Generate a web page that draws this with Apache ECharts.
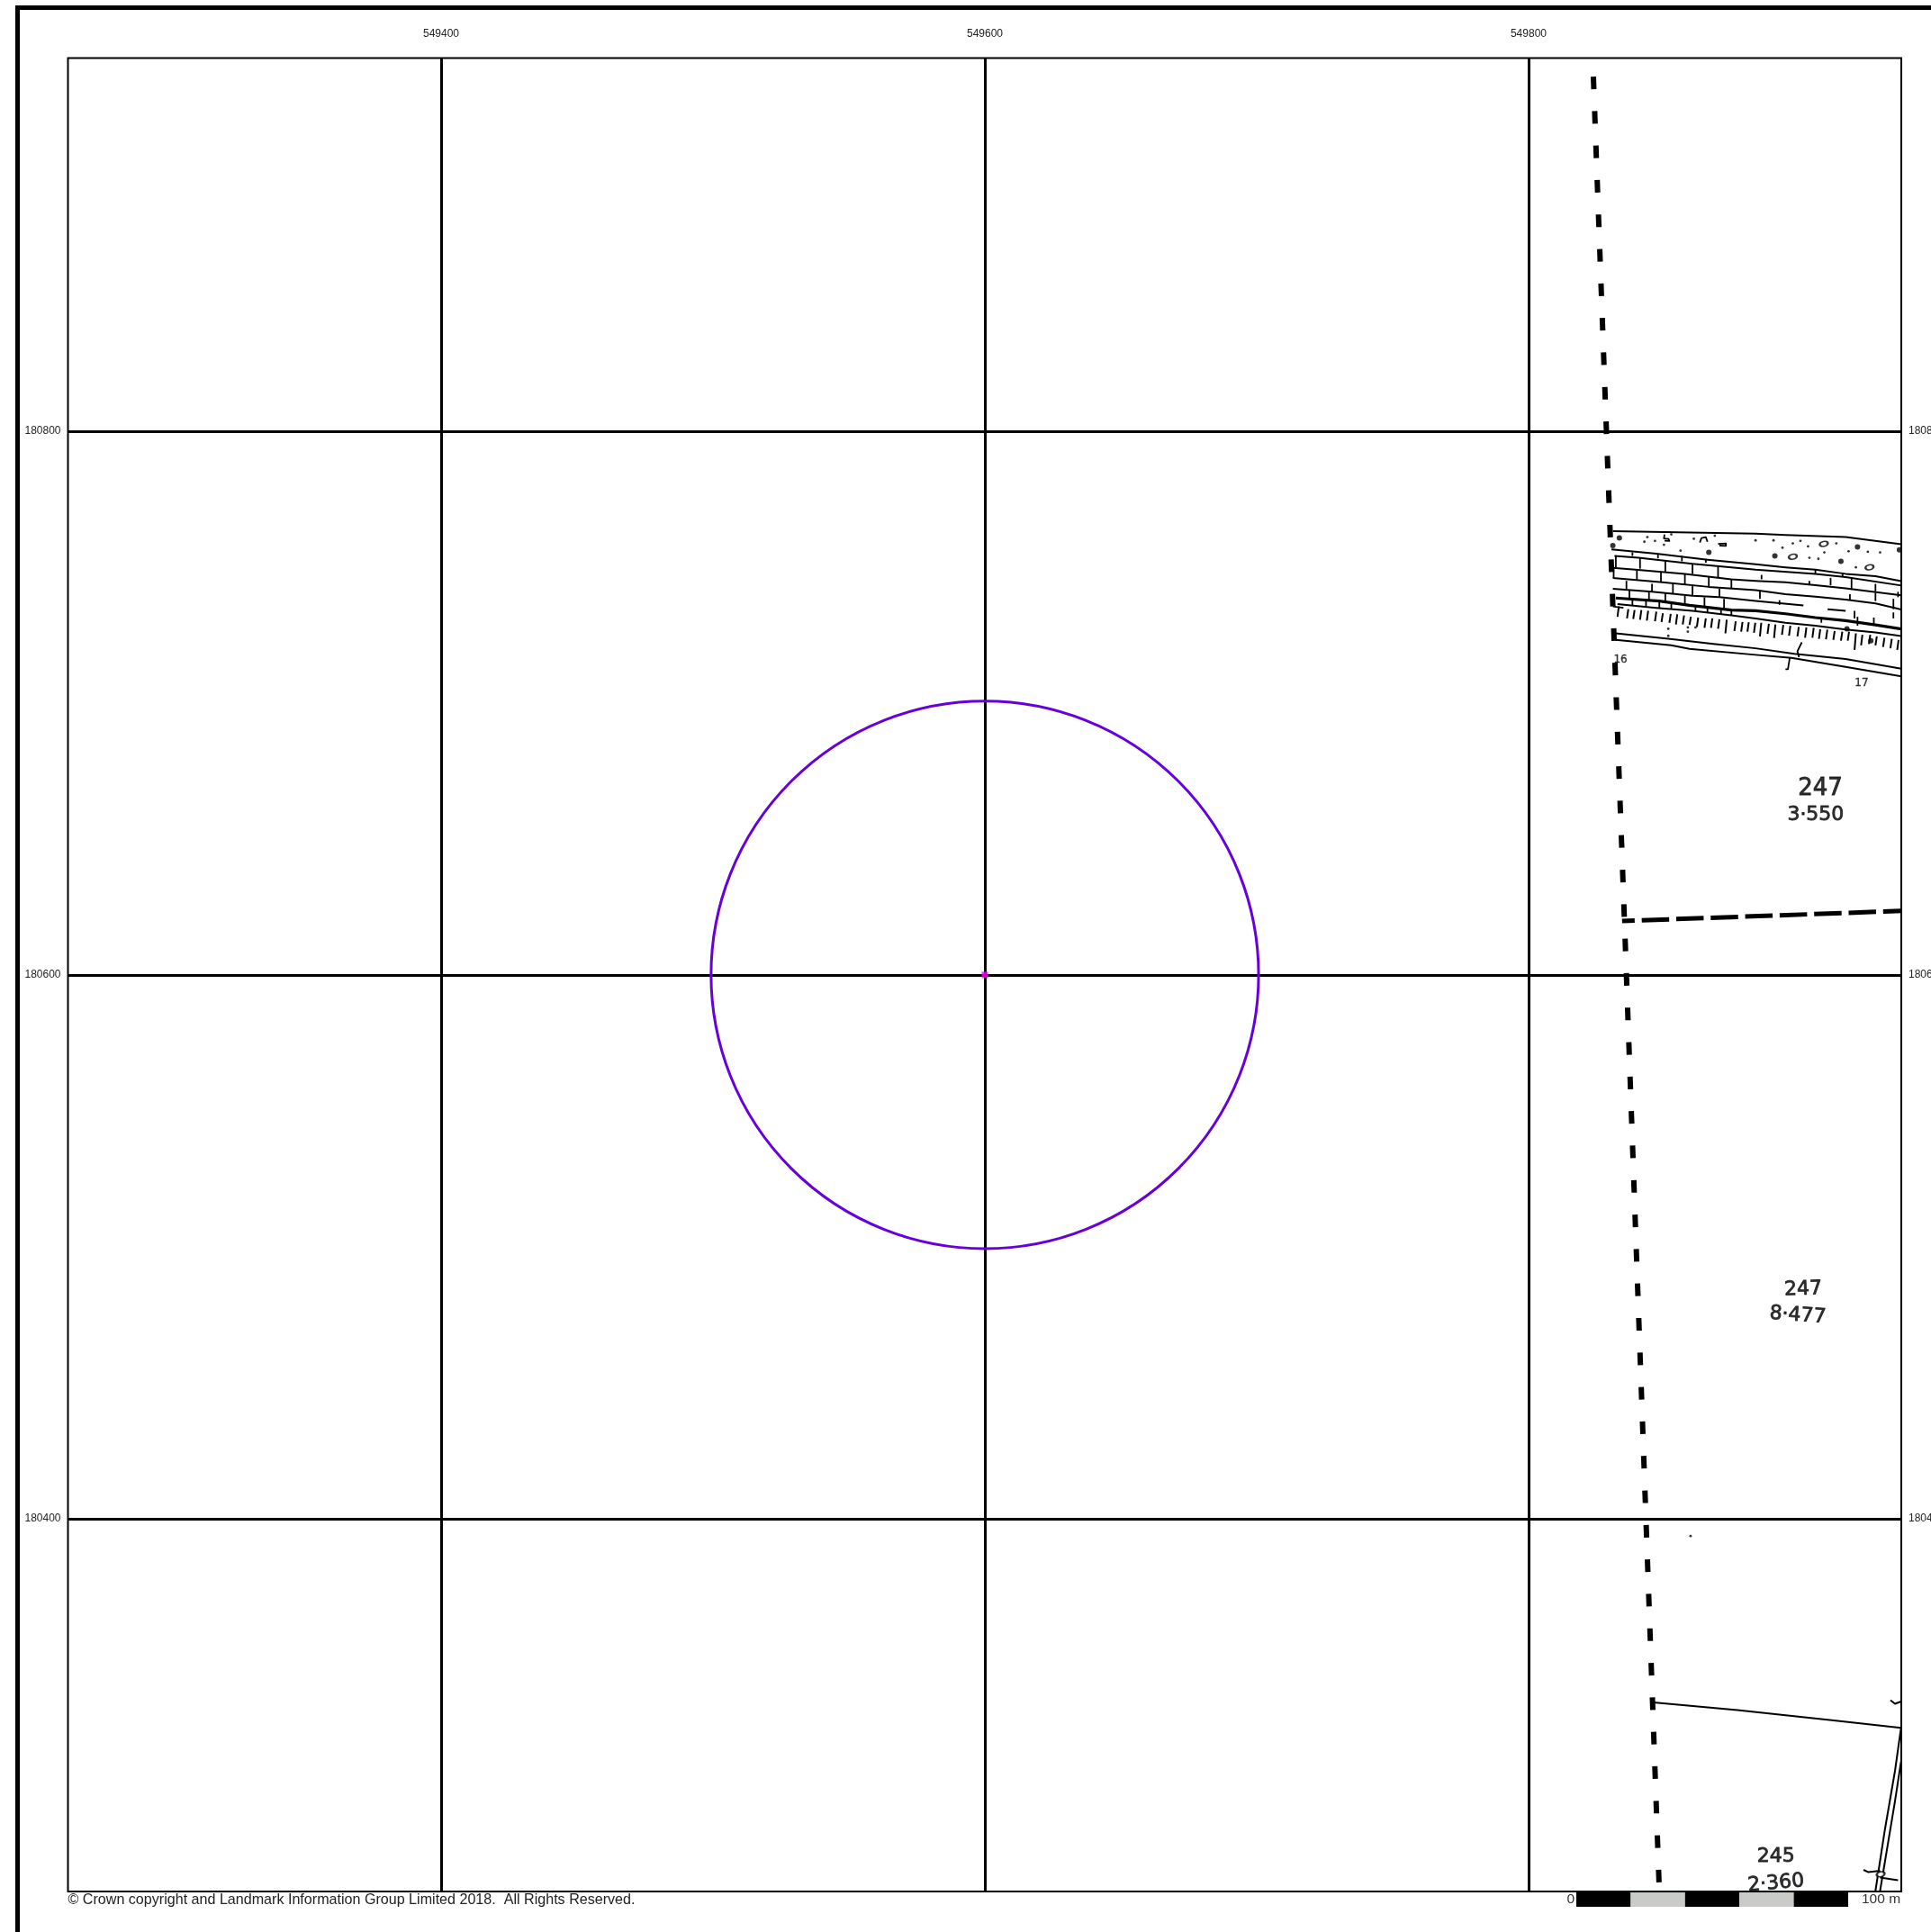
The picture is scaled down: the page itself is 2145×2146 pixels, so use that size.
<!DOCTYPE html>
<html>
<head>
<meta charset="utf-8">
<style>html,body{margin:0;padding:0;background:#fff}#c{width:2145px;height:2146px}</style>
<script src="https://cdn.jsdelivr.net/npm/echarts@6/dist/echarts.min.js"></script>
</head>
<body>
<div id="c"></div>
<script>
// Grid references (metres)
const eastingTicks = [549400, 549600, 549800];
const northingTicks = [180400, 180600, 180800];
const eastingRange = [549262.75, 549937.1];
const northingRange = [180262.85, 180937.2];

// Site: centre and buffer radius (metres)
const siteCentre = [549600, 180600];
const bufferRadius = 100.7;

// Map linework, as metres east / north of this origin
const originE = 549800, originN = 180600;
const boundaryWest = [[23.84, 330.4], [35.6, 10.8], [48, -334.2]];
const boundaryField = [[34.4, 19.8], [137.1, 23.5]];
const roadLines = [
  [[31,163.2],[83.5,162.3],[94.5,161.8],[116.6,161],[137.1,158.4]],
  [[30.5,156.5],[47,154.9],[65.8,152.7],[83.5,151],[94.5,149.9],[105.5,149],[116.6,147.5],[127.6,146.6],[137.1,144.8]],
  [[31.6,154.1],[40.4,153.4],[60.3,151.2],[83.5,149],[105.5,147.5],[116.6,146.3],[137.1,143.2]],
  [[31,149.7],[39.3,149],[57.5,147.5],[74.6,145.5],[83.5,144.9],[94.5,144.4],[105.5,143.3],[116.6,142.2],[137.1,139.6]],
  [[31,146],[49.2,144.4],[66.3,142.7],[83.5,141.5],[94.5,140],[105.5,139.1],[116.6,138],[127.6,136.6],[137.1,134.4]],
  [[31,142],[45.4,140.9],[60.3,139.4],[70.2,138.9],[83.5,137.5],[92.3,136.7],[101.1,135.9]],
  [[110,134.5],[116.6,133.9]],
  [[32.7,136.4],[47,135],[60.3,133.9],[74.6,132.2],[83.5,131.1],[94.5,129.5],[105.5,128.4],[116.6,127],[127.6,125.9],[137.1,124.6]],
  [[32.1,125.6],[51.4,123.6],[68,121.7],[83.5,120.1],[97.8,118.1],[116.6,116.2],[137.1,112.6]],
  [[32.1,123.2],[52.5,121.2],[59.2,119.9],[83.5,117.7],[96.7,116.6],[116.6,113.3],[137.1,109.8]]
];
const roadHeavyLine = [[32.1,138.6],[48.1,137.5],[59.2,135.9],[74.6,134.2],[83.5,133.9],[94.5,132.8],[105.5,131.4],[116.6,130.3],[127.6,128.7],[137.1,127.2]];
const fieldLines = [
  [[45.9,-267.6],[76.8,-270.4],[110,-274],[137,-277]],
  [[137,-277],[134.8,-292.7],[131,-314.8],[127.6,-336.9]],
  [[137,-289.4],[134.8,-303.8],[129.3,-336.9]],
  [[133.1,-266.8],[134.8,-268.1],[137,-267.3]],
  [[123.2,-329.2],[124.9,-330],[129.3,-329.5]],
  [[129.3,-332],[135.9,-333]]
];
const scribbles = [
  [[50,162],[49.8,160.5],[51.5,160.3],[51.8,159.6],[50,159.7]],
  [[63,159],[63.6,160.7],[65.2,161],[65.8,159.3]],
  [[69.7,158.5],[72.6,158.7],[72.6,157.8],[70.2,157.9]],
  [[31,135.5],[34.9,135]],
  [[100.5,122.3],[98.9,119],[99.5,116.8]],
  [[96.1,116.8],[95.4,112.4],[94.5,112.4]]
];
// [east, north top, north bottom]
const brickTicks = [
  [32.1,154.1,149.7],[41,153.4,149.4],[50.3,152.3,148.2],[60.3,151.2,147.5],[69.7,150.1,146],
  [31.3,149.7,146],[39.85,148.8,145.3],[48.7,148.2,144.4],[57.5,147.4,143.5],[66.3,146.3,142.9],[74.6,145.5,142.2],
  [36,144.9,142],[45.4,143.8,141.1],[53.1,143.8,140.2],[60.3,143.1,139.4],[70.2,142,138.9],
  [37.1,141.3,138.6],[44.3,140.9,138],[50.3,140.5,137.2],[57.5,139.4,136.4],[64.7,138.9,135.6],[71.9,138.3,135],
  [38.2,138,135.8],[43.2,137.5,135.3],[48.1,137.2,135],[52.5,136.7,134.4],[61.4,135.6,133.9],[65.8,135,133.3],[70.8,134.7,132.8],[74.6,134.2,132.2],
  [38.2,155.4,154.1],[47.6,154.9,153.2],[56.4,154.1,152.1],[65.2,153,151.6],
  [85.7,147.1,145.5],[92.3,137.8,136.1],[85.1,141.1,138.3],[103.3,144.9,143.5],[105.5,149,147.5],[107.7,131.1,129.5],
  [111.1,146,143.3],[115.5,147.7,146.4],[118.2,140,138],[118.8,146,141.6],[119.9,133.9,131.1],[121,131.7,128.4],
  [127,131.4,128.4],[127.6,143.8,141.1],[127.6,140.5,137.5],[134.2,138.3,134.5],[134.2,133.3,131.1],[135.9,140.9,138.9]
];
const hachures = [
  [32.7,135.5,131.7],[36.2,134.5,131.1],[38.5,134.2,130.9],[41,134.2,130.6],[43.5,133.9,130.3],[46.5,133.6,130],
  [48.9,133,129.8],[51.8,132.8,129.5],[54.2,132.6,128.9],[56.7,132.2,128.9],[59.2,131.7,128.7],[61.9,131.4,128],
  [64.7,131.1,127.6],[67.1,131.1,127.6],[69.7,130.8,127.3],[72.4,130.6,125.6],[75.7,130,126.5],[78.2,129.8,126.2],
  [80.5,129.7,126.2],[82.9,129.5,125.8],[85.1,129.5,124.5],[87.9,129.1,125.4],[90.3,128.9,123.9],[93.2,128.7,125.1],
  [95.8,128.4,124.7],[98.9,128,124.5],[101.7,127.8,124],[104.4,127.6,124],[106.8,127.1,123.6],[109.4,127,123.4],
  [112.1,126.5,123.2],[114.9,126.2,122.9],[117.4,126.2,122.9],[119.9,125.6,119.5],[122.3,125.1,121.2],[125.2,125.1,121.7],
  [127.6,124.5,121.2],[130.4,124,120.6],[133.1,123.6,120.1],[135.6,123.2,119.5]
];
const smallStones = [
  [43.7,161],[46.5,159.6],[49.8,158.2],[42.6,159.3],[60.8,160.4],[68.5,161.5],[55.9,156],[52.5,162],
  [93.4,157.1],[97.2,158.7],[100,159.6],[102.8,157.6],[103.3,153.4],[106.6,153],[113.2,158.7],[120.4,149.9],
  [124.8,155.6],[129.3,155.4],[117.7,155.8],[108.8,155.4],[90.1,159.8],[83.5,159.8],
  [51.4,127.3],[51.4,124.7],[58.6,127.8],[61.4,127.8],[58.6,126.2],[59.6,-206.4]
];
const largeStones = [[66.3,155.4],[31,157.9],[90.6,154.1],[114.9,152.1],[121,157.4],[136.4,156.3],[117.1,127.3],[125.9,122.9],[33.4,160.7]];
const pebbles = [[97.2,153.8],[125.4,149.9],[108.6,158.5],[129.5,-330.8]];

const parcelLabels = ['247', '3·550', '247', '8·477', '245', '2·360', '16', '17'];
const parcelEast = [107.3, 105.6, 101, 99, 91, 91, 33.8, 122.5];
const parcelNorth = [68.4, 58.8, -115.7, -125.3, -324.3, -334.2, 115.8, 107.2];

// Scale bar: five 20 m blocks
const scaleBlocks = [20, 20, 20, 20, 20];
const scaleEnds = ['0', '100 m'];
const copyrightText = '© Crown copyright and Landmark Information Group Limited 2018.  All Rights Reserved.';

// ---- styles ----
const parcelFont = [26, 22, 22, 22, 22, 22, 12, 12];
const parcelRotate = [0, 0, 2, -4, 0, 5, 0, 0];
const fontSans = '"Liberation Sans", Arial, sans-serif';
const blockColours = ['#000000', '#c8cbc6', '#000000', '#c8cbc6', '#000000'];

const at = p => [originE + p[0], originN + p[1]];
const polyline = (pts, width) => ({
  type: 'line', data: pts.map(at), showSymbol: false, symbol: 'none', silent: true, z: 3,
  lineStyle: { color: '#000', width: width, cap: 'butt', join: 'round' }
});
const tickSeries = (rows, width, lean) => ({
  type: 'custom', silent: true, z: 3, data: rows.map(r => [originE + r[0], originN + r[1], originN + r[2]]),
  encode: { x: 0, y: [1, 2] },
  renderItem: (p, api) => {
    const a = api.coord([api.value(0), api.value(1)]);
    const b = api.coord([api.value(0), api.value(2)]);
    return { type: 'line', shape: { x1: a[0] + lean, y1: a[1], x2: b[0], y2: b[1] }, style: { stroke: '#000', lineWidth: width } };
  }
});
const axisLabelStyle = { color: '#222', fontSize: 12, fontFamily: fontSans };

const series = [];
series.push({
  type: 'line', data: boundaryWest.map(at), symbol: 'none', silent: true, z: 4,
  lineStyle: { color: '#000', width: 6, type: [14, 24.33], cap: 'butt' }
});
series.push({
  type: 'line', data: boundaryField.map(at), symbol: 'none', silent: true, z: 4,
  lineStyle: { color: '#000', width: 5, type: [30.5, 7.83], dashOffset: 16.5, cap: 'butt' }
});
roadLines.forEach(l => series.push(polyline(l, 2)));
series.push(polyline(roadHeavyLine, 3.2));
fieldLines.forEach(l => series.push(polyline(l, 2)));
scribbles.forEach(l => series.push(polyline(l, 1.8)));
series.push(tickSeries(brickTicks, 1.8, 0));
series.push(tickSeries(hachures, 2, 1.5));
series.push({ type: 'scatter', data: smallStones.map(at), symbolSize: 2.8, silent: true, z: 3, itemStyle: { color: '#000' } });
series.push({ type: 'scatter', data: largeStones.map(at), symbolSize: 6, silent: true, z: 3, itemStyle: { color: '#000' } });
series.push({
  type: 'scatter', data: pebbles.map(at), symbolSize: [9, 5.5], symbolRotate: 12, silent: true, z: 3,
  itemStyle: { color: '#fff', borderColor: '#000', borderWidth: 2 }
});
series.push({
  type: 'scatter', silent: true, z: 5, symbolSize: 1, itemStyle: { color: 'rgba(0,0,0,0)' },
  data: parcelLabels.map((t, i) => ({
    value: [originE + parcelEast[i], originN + parcelNorth[i]],
    label: {
      show: true, position: 'inside', formatter: t, fontSize: parcelFont[i], rotate: parcelRotate[i],
      fontFamily: '"DejaVu Sans", sans-serif', color: '#000',
      textBorderColor: '#000', textBorderWidth: i < 6 ? 0.8 : 0.3
    }
  }))
});
series.push({
  type: 'custom', silent: true, z: 6, data: [[siteCentre[0], siteCentre[1], bufferRadius]],
  encode: { x: 0, y: 1 },
  renderItem: (p, api) => {
    const c = api.coord([api.value(0), api.value(1)]);
    const r = api.size([api.value(2), 0])[0];
    return { type: 'circle', shape: { cx: c[0], cy: c[1], r: r }, style: { fill: 'none', stroke: '#6600dc', lineWidth: 3 } };
  }
});
series.push({
  type: 'scatter', data: [siteCentre], symbol: 'rect', symbolSize: 7, silent: true, z: 7, itemStyle: { color: '#ff00ff' }
});
scaleBlocks.forEach((v, i) => series.push({
  type: 'bar', xAxisIndex: 1, yAxisIndex: 2, stack: 'scale', barWidth: '100%', data: [v], silent: true,
  itemStyle: { color: blockColours[i] }
}));

const chart = echarts.init(document.getElementById('c'), null, { renderer: 'canvas' });
chart.setOption({
  animation: false,
  backgroundColor: '#fff',
  grid: [
    { left: 75.5, top: 64.5, width: 2036.5, height: 2036.5, outerBoundsMode: 'none', show: true, borderColor: '#000', borderWidth: 2, backgroundColor: '#fff' },
    { left: 1751, top: 2102, width: 302, height: 16, outerBoundsMode: 'none' }
  ],
  xAxis: [
    {
      type: 'value', gridIndex: 0, position: 'top', min: eastingRange[0], max: eastingRange[1], scale: true,
      axisLine: { show: false },
      axisTick: { show: false, customValues: eastingTicks },
      axisLabel: { show: true, margin: 21, customValues: eastingTicks, formatter: v => String(v), ...axisLabelStyle },
      splitLine: { show: true, lineStyle: { color: '#000', width: 3 } }
    },
    { type: 'value', gridIndex: 1, min: 0, max: 100, show: false }
  ],
  yAxis: [
    {
      type: 'value', gridIndex: 0, position: 'left', min: northingRange[0], max: northingRange[1], scale: true,
      axisLine: { show: false },
      axisTick: { show: false, customValues: northingTicks },
      axisLabel: { show: true, margin: 8, customValues: northingTicks, formatter: v => String(v), ...axisLabelStyle },
      splitLine: { show: true, lineStyle: { color: '#000', width: 3 } }
    },
    {
      type: 'value', gridIndex: 0, position: 'right', min: northingRange[0], max: northingRange[1], scale: true,
      axisLine: { show: false },
      axisTick: { show: false, customValues: northingTicks },
      axisLabel: { show: true, margin: 8, customValues: northingTicks, formatter: v => String(v), ...axisLabelStyle },
      splitLine: { show: false }
    },
    { type: 'category', gridIndex: 1, data: ['scale'], show: false }
  ],
  graphic: [
    { type: 'rect', z: 50, shape: { x: 19.5, y: 8.5, width: 3000, height: 3000 }, style: { fill: 'none', stroke: '#000', lineWidth: 5 } },
    { type: 'text', z: 50, x: 75.5, y: 2111, style: { text: copyrightText, fill: '#222', font: '16.1px ' + fontSans, verticalAlign: 'middle' } },
    { type: 'text', z: 50, x: 1749, y: 2110, style: { text: scaleEnds[0], fill: '#333', font: '15.5px ' + fontSans, align: 'right', verticalAlign: 'middle' } },
    { type: 'text', z: 50, x: 2068, y: 2110, style: { text: scaleEnds[1], fill: '#333', font: '15.5px ' + fontSans, align: 'left', verticalAlign: 'middle' } }
  ],
  series: series
});
</script>
</body>
</html>
